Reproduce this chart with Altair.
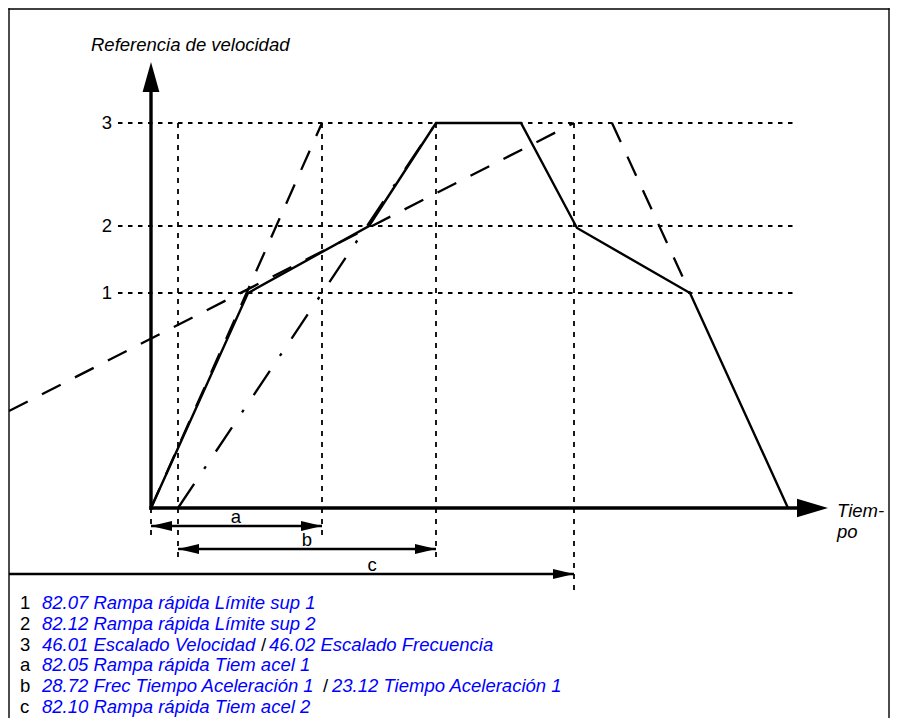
import altair as alt
import pandas as pd

# ---------------- data (diagram units: time / speed measured from the origin) ----------------
level_names = ["1", "2", "3"]
level_values = [215, 282, 385]

# solid speed-reference profile
profile_t = [0, 97, 218, 285, 370, 426, 539, 637]
profile_v = [0, 215, 282, 385, 385, 280, 215, 0]

# dashed ramps (a: steep, c: shallow, deceleration)
ramp_a_t = [0, 171]
ramp_a_v = [0, 385]
ramp_c_t = [-142, 423]
ramp_c_v = [97, 385]
ramp_dec_t = [461, 539]
ramp_dec_v = [385, 215]
# dash-dot ramp b
ramp_b_t = [27, 285]
ramp_b_v = [0, 385]

# vertical reference lines
vert_t = [0, 27, 171, 285, 423]
vert_top = [0, 385, 385, 385, 385]
vert_bottom = [-29, -54, -29, -54, -82]
grid_t_start = -33
grid_t_end = 644

# dimension arrows
dim_names = ["a", "b", "c"]
dim_start = [0, 27, -142]
dim_end = [171, 285, 423]
dim_level = [-18, -41, -66]
dim_label_t = [85, 156, 221]
dim_label_v = [-9, -32, -57]
dim_double = [True, True, False]

# axes
y_axis_top = 420
y_arrow_tip = 446
x_axis_end = 650
x_arrow_tip = 677

# frame
frame_left = -142
frame_right = 738
frame_top = 499
frame_bottom = -210

# titles
y_title = "Referencia de velocidad"
x_title = ["Tiem-", "po"]

# legend
legend_keys = ["1", "2", "3", "a", "b", "c"]
legend_main = [
    "82.07 Rampa rápida Límite sup 1",
    "82.12 Rampa rápida Límite sup 2",
    "46.01 Escalado Velocidad",
    "82.05 Rampa rápida Tiem acel 1",
    "28.72 Frec Tiempo Aceleración 1",
    "82.10 Rampa rápida Tiem acel 2",
]
legend_rows_v = [-95, -116, -137, -157, -178, -199]
legend_second = {2: "46.02 Escalado Frecuencia", 4: "23.12 Tiempo Aceleración 1"}
legend_slash_t = {2: 110, 4: 172}
legend_second_t = {2: 118, 4: 181}

# ---------------- layout / style ----------------
FONT = "Liberation Sans"
BLUE = "#0000ff"
FS = 18.5
W, H = 882, 710
xs = alt.Scale(domain=[-143, 739], nice=False, zero=False)
ys = alt.Scale(domain=[-210, 500], nice=False, zero=False)
X = lambda f="t": alt.X(f"{f}:Q", scale=xs, axis=None)
Y = lambda f="v": alt.Y(f"{f}:Q", scale=ys, axis=None)
X2 = lambda f="t2": alt.X2(f"{f}:Q")
Y2 = lambda f="v2": alt.Y2(f"{f}:Q")


def seg_df(rows):
    return pd.DataFrame(rows, columns=["t", "v", "t2", "v2"])


def rules(df, **kw):
    return alt.Chart(df).mark_rule(**kw).encode(x=X(), y=Y(), x2=X2(), y2=Y2())


def texts(df, **kw):
    return alt.Chart(df).mark_text(font=FONT, **kw).encode(x=X(), y=Y(), text="txt:N")


layers = []

# dotted grid
hgrid = seg_df([(grid_t_start, lv, grid_t_end, lv) for lv in level_values])
layers.append(rules(hgrid, color="black", strokeWidth=1.8, strokeDash=[4.5, 5.5]))
vgrid = seg_df([(t, top, t, bot) for t, top, bot in zip(vert_t, vert_top, vert_bottom)])
layers.append(rules(vgrid, color="black", strokeWidth=1.8, strokeDash=[5, 6]))

# dashed ramps
dashed = seg_df([
    (ramp_a_t[0], ramp_a_v[0], ramp_a_t[1], ramp_a_v[1]),
    (ramp_c_t[0], ramp_c_v[0], ramp_c_t[1], ramp_c_v[1]),
    (ramp_dec_t[0], ramp_dec_v[0], ramp_dec_t[1], ramp_dec_v[1]),
])
layers.append(rules(dashed, color="black", strokeWidth=2.3, strokeDash=[21, 16]))
dashdot = seg_df([(ramp_b_t[0], ramp_b_v[0], ramp_b_t[1], ramp_b_v[1])])
layers.append(rules(dashdot, color="black", strokeWidth=2.3, strokeDash=[29, 18, 3, 18]))

# solid profile
prof = pd.DataFrame({"t": profile_t, "v": profile_v, "o": range(len(profile_t))})
layers.append(
    alt.Chart(prof).mark_line(color="black", strokeWidth=2.4, strokeJoin="miter")
    .encode(x=X(), y=Y(), order="o:Q")
)

# axes
axes = seg_df([(0, 0, 0, y_axis_top), (0, 0, x_axis_end, 0)])
layers.append(rules(axes, color="black", strokeWidth=3.4, strokeCap="square"))
layers.append(
    alt.Chart(pd.DataFrame({"t": [0], "v": [y_arrow_tip]}))
    .mark_point(shape="M0,0 L-0.28,1 L0.28,1 Z", size=3600, filled=True,
                color="black", opacity=1, strokeWidth=0)
    .encode(x=X(), y=Y())
)
layers.append(
    alt.Chart(pd.DataFrame({"t": [x_arrow_tip], "v": [0]}))
    .mark_point(shape="M0,0 L-1,-0.3 L-1,0.3 Z", size=3844, filled=True,
                color="black", opacity=1, strokeWidth=0)
    .encode(x=X(), y=Y())
)

# dimension arrows
dims = seg_df([(s, lv, e, lv) for s, e, lv in zip(dim_start, dim_end, dim_level)])
layers.append(rules(dims, color="black", strokeWidth=2.4))
right_heads = pd.DataFrame({"t": dim_end, "v": dim_level})
left_heads = pd.DataFrame({"t": [s for s, d in zip(dim_start, dim_double) if d],
                           "v": [lv for lv, d in zip(dim_level, dim_double) if d]})
layers.append(
    alt.Chart(right_heads)
    .mark_point(shape="M0,0 L-1,-0.24 L-1,0.24 Z", size=1764, filled=True,
                color="black", opacity=1, strokeWidth=0)
    .encode(x=X(), y=Y())
)
layers.append(
    alt.Chart(left_heads)
    .mark_point(shape="M0,0 L1,-0.24 L1,0.24 Z", size=1764, filled=True,
                color="black", opacity=1, strokeWidth=0)
    .encode(x=X(), y=Y())
)
dim_lab = pd.DataFrame({"t": dim_label_t, "v": dim_label_v, "txt": dim_names})
layers.append(texts(dim_lab, fontSize=FS, color="black", align="center", baseline="middle"))

# level labels
lev = pd.DataFrame({"t": [-39] * 3, "v": level_values, "txt": level_names})
layers.append(texts(lev, fontSize=FS, color="black", align="right", baseline="middle"))

# titles
layers.append(texts(pd.DataFrame({"t": [-60], "v": [463], "txt": [y_title]}),
                    fontSize=FS, fontStyle="italic", color="black",
                    align="left", baseline="middle"))
layers.append(texts(pd.DataFrame({"t": [686, 686], "v": [-9, -30], "txt": x_title}),
                    fontSize=FS, fontStyle="italic", color="black",
                    align="left", baseline="alphabetic"))

# frame
frame = seg_df([
    (frame_left, frame_bottom, frame_left, frame_top),
    (frame_right, frame_bottom, frame_right, frame_top),
    (frame_left, frame_top, frame_right, frame_top),
])
layers.append(rules(frame, color="black", strokeWidth=1.4, strokeCap="square"))

# legend
keys = pd.DataFrame({"t": [-131] * 6, "v": legend_rows_v, "txt": legend_keys})
layers.append(texts(keys, fontSize=FS, color="black", align="left", baseline="middle"))
main = pd.DataFrame({"t": [-109] * 6, "v": legend_rows_v, "txt": legend_main})
layers.append(texts(main, fontSize=FS, fontStyle="italic", color=BLUE,
                    align="left", baseline="middle"))
rows = sorted(legend_second)
slash = pd.DataFrame({"t": [legend_slash_t[r] for r in rows],
                      "v": [legend_rows_v[r] for r in rows], "txt": ["/"] * len(rows)})
layers.append(texts(slash, fontSize=FS, color="black", align="left", baseline="middle"))
second = pd.DataFrame({"t": [legend_second_t[r] for r in rows],
                       "v": [legend_rows_v[r] for r in rows],
                       "txt": [legend_second[r] for r in rows]})
layers.append(texts(second, fontSize=FS, fontStyle="italic", color=BLUE,
                    align="left", baseline="middle"))

chart = (
    alt.layer(*layers)
    .properties(width=W, height=H, autosize=alt.AutoSizeParams(type="none"), padding=0)
    .configure_view(stroke=None)
)
chart.save("out.html", embed_options={"renderer": "svg", "actions": False})
